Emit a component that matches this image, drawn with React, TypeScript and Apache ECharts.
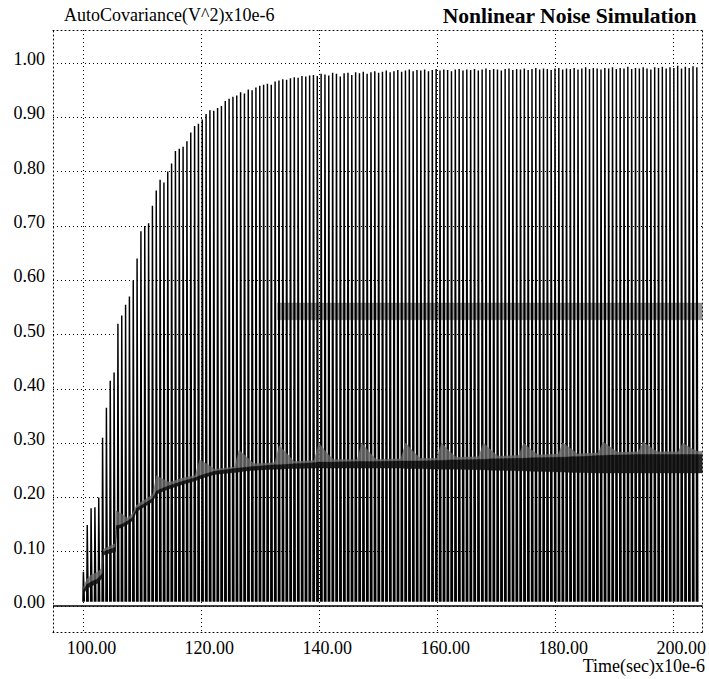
import React, { useEffect, useRef } from 'react';
import * as echarts from 'echarts';

// ---------- data ----------
const CYCLE_START = 100;      // first oscillation cycle (x10e-6 s)
const CYCLE_PERIOD = 0.65;    // spacing of the oscillation cycles
const TROUGH = 0.008;         // bottom of each oscillation

// peak of every oscillation cycle
const peaks = [
  0.063, 0.149, 0.18, 0.182, 0.2, 0.31, 0.365, 0.415, 0.43, 0.52,
  0.535, 0.555, 0.57, 0.6, 0.64, 0.69, 0.7, 0.705, 0.737, 0.765,
  0.785, 0.78, 0.8, 0.815, 0.838, 0.842, 0.846, 0.856, 0.872, 0.884,
  0.888, 0.896, 0.906, 0.913, 0.912, 0.917, 0.921, 0.93, 0.934, 0.938,
  0.94, 0.946, 0.944, 0.951, 0.95, 0.955, 0.958, 0.96, 0.962, 0.96,
  0.966, 0.968, 0.97, 0.969, 0.972, 0.974, 0.973, 0.976, 0.975, 0.977,
  0.978, 0.976, 0.98, 0.979, 0.977, 0.982, 0.98, 0.975, 0.981, 0.982,
  0.978, 0.983, 0.981, 0.984, 0.98, 0.983, 0.985, 0.982, 0.984, 0.986,
  0.983, 0.985, 0.987, 0.984, 0.986, 0.988, 0.985, 0.987, 0.986, 0.988,
  0.985, 0.987, 0.989, 0.986, 0.988, 0.987, 0.985, 0.988, 0.989, 0.986,
  0.988, 0.987, 0.989, 0.986, 0.988, 0.99, 0.987, 0.989, 0.988, 0.986,
  0.989, 0.99, 0.987, 0.989, 0.988, 0.99, 0.987, 0.989, 0.991, 0.988,
  0.99, 0.989, 0.987, 0.99, 0.991, 0.988, 0.99, 0.989, 0.991, 0.988,
  0.99, 0.992, 0.989, 0.991, 0.99, 0.988, 0.991, 0.99, 0.992, 0.989,
  0.991, 0.99, 0.993, 0.989, 0.991, 0.99, 0.992, 0.99, 0.988, 0.992,
  0.991, 0.993, 0.99, 0.992, 0.991, 0.995, 0.99, 0.993, 0.991, 0.994,
  0.992,
];

// slowly varying mean trace (dark core) and its periodic grey "fins"
const midT = [
  100.1, 100.7, 101.5, 102.5, 103.3, 103.5, 105.5, 105.7, 106.5, 107.5,
  108.4, 109.1, 111.8, 112.5, 113.5, 114.7, 117, 119.0, 119.8, 121,
  122.3, 125.7, 126.5, 128, 129, 132.5, 133.3, 134.8, 135.8, 139.2,
  140, 141.5, 142.5, 146.5, 147.3, 148.8, 149.8, 153.9, 154.7, 156.2,
  157.2, 160, 160.8, 162.3, 163.3, 167.1, 167.9, 169.4, 170.4, 173.9,
  174.7, 176.2, 177.2, 180.6, 181.4, 182.9, 183.9, 187.4, 188.2, 189.7,
  190.7, 194.2, 195, 196.5, 197.5, 200.9, 201.7, 203.2, 204.2, 205,
];
const coreLow = [
  0.022, 0.032, 0.037, 0.042, 0.052, 0.094, 0.1, 0.142, 0.144, 0.15,
  0.157, 0.174, 0.192, 0.206, 0.211, 0.216, 0.224, 0.23, 0.234, 0.238,
  0.242, 0.246, 0.247, 0.249, 0.25, 0.252, 0.252, 0.253, 0.253, 0.254,
  0.254, 0.254, 0.254, 0.254, 0.254, 0.254, 0.254, 0.254, 0.253, 0.253,
  0.253, 0.252, 0.252, 0.252, 0.252, 0.251, 0.251, 0.25, 0.25, 0.249,
  0.249, 0.248, 0.248, 0.247, 0.247, 0.246, 0.246, 0.245, 0.245, 0.245,
  0.245, 0.245, 0.245, 0.245, 0.245, 0.245, 0.245, 0.245, 0.245, 0.245,
];
const coreHigh = [
  0.03, 0.04, 0.045, 0.05, 0.06, 0.1, 0.108, 0.148, 0.15, 0.156,
  0.163, 0.18, 0.198, 0.212, 0.217, 0.222, 0.23, 0.236, 0.24, 0.244,
  0.248, 0.253, 0.254, 0.256, 0.257, 0.26, 0.26, 0.261, 0.262, 0.264,
  0.265, 0.265, 0.265, 0.266, 0.266, 0.266, 0.266, 0.267, 0.267, 0.267,
  0.267, 0.268, 0.268, 0.269, 0.269, 0.27, 0.27, 0.271, 0.271, 0.272,
  0.272, 0.273, 0.273, 0.274, 0.274, 0.275, 0.275, 0.277, 0.277, 0.278,
  0.278, 0.279, 0.279, 0.279, 0.279, 0.279, 0.279, 0.279, 0.279, 0.279,
];
const finHigh = [
  0.035, 0.05, 0.058, 0.062, 0.072, 0.105, 0.115, 0.175, 0.17, 0.162,
  0.17, 0.186, 0.205, 0.24, 0.234, 0.228, 0.236, 0.24, 0.269, 0.262,
  0.252, 0.256, 0.287, 0.272, 0.262, 0.264, 0.295, 0.278, 0.266, 0.268,
  0.3, 0.28, 0.27, 0.27, 0.3, 0.28, 0.27, 0.271, 0.3, 0.282,
  0.272, 0.272, 0.3, 0.283, 0.274, 0.275, 0.3, 0.285, 0.276, 0.277,
  0.3, 0.286, 0.278, 0.28, 0.3, 0.288, 0.28, 0.282, 0.302, 0.29,
  0.283, 0.284, 0.302, 0.29, 0.284, 0.284, 0.3, 0.29, 0.285, 0.285,
];

// faint dark band of overlapping strokes near 0.55
const bandT = [133, 205];
const bandLow = [0.527, 0.527];
const bandHigh = [0.558, 0.558];

const xTicks = [100, 120, 140, 160, 180, 200];
const yTicks = [0, 0.1, 0.2, 0.3, 0.4, 0.5, 0.6, 0.7, 0.8, 0.9, 1.0];

const X_MIN = 94.93;
const X_MAX = 205.07;
const Y_MIN = -0.0479;
const Y_MAX = 1.0608;

const FONT = 'Liberation Serif';
const FS = 18;
const DOTS = [1, 3];

// a custom series that fills the area between two traces
function areaSeries(ts: number[], lo: number[], hi: number[], color: string, opacity: number) {
  return {
    type: 'custom',
    clip: true,
    silent: true,
    encode: { x: 0, y: 1 },
    data: ts.slice(0, -1).map((t, i) => [t, lo[i], hi[i]]),
    renderItem: (params: any, api: any) => {
      const i = params.dataIndex;
      const pts = [
        api.coord([ts[i], lo[i]]),
        api.coord([ts[i + 1], lo[i + 1]]),
        api.coord([ts[i + 1], hi[i + 1]]),
        api.coord([ts[i], hi[i]]),
      ];
      return {
        type: 'polygon',
        shape: { points: pts },
        style: { fill: color, stroke: color, lineWidth: 0.4, opacity },
      };
    },
  };
}

export default function App() {
  const ref = useRef<HTMLDivElement>(null);

  useEffect(() => {
    const chart = echarts.init(ref.current!, null, { renderer: 'svg' });

    const cycles = peaks.map((p, i) => [CYCLE_START + i * CYCLE_PERIOD, p]);
    const dotted = { color: '#000', width: 1, type: DOTS };
    const txt = { fontFamily: FONT, fontSize: FS, fontWeight: 'normal', color: '#000', lineHeight: 18 };

    const option: any = {
      animation: false,
      backgroundColor: '#fff',
      textStyle: { fontFamily: FONT },
      title: [
        { text: 'AutoCovariance(V^2)x10e-6', left: 64, top: 6, padding: 0, textStyle: txt },
        {
          text: 'Nonlinear Noise Simulation',
          right: 12,
          top: 5,
          padding: 0,
          textStyle: { fontFamily: FONT, fontSize: 21.6, fontWeight: 'bold', color: '#000', lineHeight: 22 },
        },
        { text: 'Time(sec)x10e-6', right: 4, bottom: 4, padding: 0, textStyle: txt },
      ],
      grid: { left: 53, right: 4, top: 30, bottom: 47, containLabel: false },
      xAxis: [
        {
          type: 'value',
          min: X_MIN,
          max: X_MAX,
          position: 'bottom',
          axisLine: { show: true, onZero: false, lineStyle: dotted },
          axisTick: { show: false, customValues: xTicks },
          axisLabel: {
            customValues: xTicks,
            margin: 8,
            color: '#000',
            fontFamily: FONT,
            fontSize: FS,
            lineHeight: 16,
            formatter: (v: number) => `{a|${v.toFixed(2)}}`,
            rich: {
              a: { fontFamily: FONT, fontSize: FS, lineHeight: 16, color: '#000', padding: [0, 0, 0, 17] },
            },
          },
          splitLine: { show: true, lineStyle: dotted },
        },
        {
          type: 'value',
          min: X_MIN,
          max: X_MAX,
          position: 'top',
          axisLine: { show: true, onZero: false, lineStyle: dotted },
          axisTick: { show: false },
          axisLabel: { show: false },
          splitLine: { show: false },
        },
      ],
      yAxis: [
        {
          type: 'value',
          min: Y_MIN,
          max: Y_MAX,
          position: 'left',
          axisLine: { show: true, onZero: false, lineStyle: dotted },
          axisTick: { show: false, customValues: yTicks },
          axisLabel: {
            customValues: yTicks,
            margin: 8,
            color: '#000',
            fontFamily: FONT,
            fontSize: FS,
            formatter: (v: number) => `{a|${v.toFixed(2)}}`,
            rich: { a: { fontFamily: FONT, fontSize: FS, color: '#000', padding: [0, 0, 8, 0] } },
          },
          splitLine: { show: true, lineStyle: dotted },
        },
        {
          type: 'value',
          min: Y_MIN,
          max: Y_MAX,
          position: 'right',
          axisLine: { show: true, onZero: false, lineStyle: dotted },
          axisTick: { show: false },
          axisLabel: { show: false },
          splitLine: { show: false },
        },
      ],
      series: [
        {
          type: 'custom',
          name: 'oscillation',
          clip: true,
          encode: { x: 0, y: 1 },
          data: cycles,
          renderItem: (_params: any, api: any) => {
            const t = api.value(0);
            const p = api.value(1);
            const a = api.coord([t, TROUGH]);
            const b = api.coord([t + CYCLE_PERIOD * 0.13, p]);
            const c = api.coord([t + CYCLE_PERIOD * 0.38, TROUGH]);
            return {
              type: 'polyline',
              shape: { points: [a, b, c] },
              style: { stroke: '#000', lineWidth: 1.45, fill: null },
            };
          },
          markLine: {
            silent: true,
            symbol: ['none', 'none'],
            label: { show: false },
            lineStyle: { color: '#000', width: 1.5, type: 'solid' },
            data: [{ yAxis: 0 }],
          },
        },
        areaSeries(midT, coreHigh, finHigh, '#6a6a6a', 0.8),
        areaSeries(midT, coreLow, coreHigh, '#111', 0.9),
        areaSeries(bandT, bandLow, bandHigh, '#000', 0.4),
      ],
    };

    chart.setOption(option);
    return () => chart.dispose();
  }, []);

  return (
    <div
      ref={ref}
      style={{ position: 'fixed', left: 0, top: 0, width: 709, height: 679, background: '#fff' }}
    />
  );
}
